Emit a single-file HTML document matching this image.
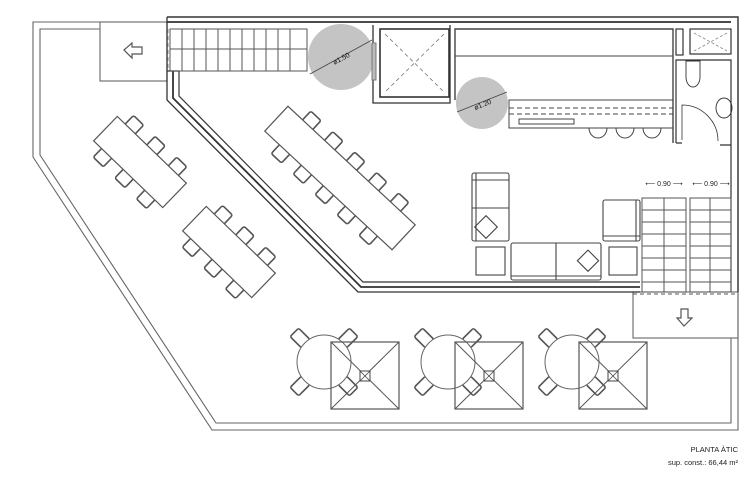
<!DOCTYPE html>
<html><head><meta charset="utf-8"><style>
html,body{margin:0;padding:0;background:#fff;width:753px;height:480px;overflow:hidden}
svg{display:block}
text{font-family:"Liberation Sans",sans-serif}
</style></head><body>
<svg width="753" height="480" viewBox="0 0 753 480" xmlns="http://www.w3.org/2000/svg">
<defs>
<g id="chair"><rect x="-7" y="-7" width="14" height="14" rx="2" fill="#fff" stroke="#555" stroke-width="1.6"/></g>
<g id="rt">
 <g transform="translate(-24,-24) rotate(45)"><rect x="-8" y="-6" width="16" height="12" rx="2" fill="#fff" stroke="#555" stroke-width="1.6"/></g>
 <g transform="translate(24,-24) rotate(-45)"><rect x="-8" y="-6" width="16" height="12" rx="2" fill="#fff" stroke="#555" stroke-width="1.6"/></g>
 <g transform="translate(-24,24) rotate(-45)"><rect x="-8" y="-6" width="16" height="12" rx="2" fill="#fff" stroke="#555" stroke-width="1.6"/></g>
 <g transform="translate(24,24) rotate(45)"><rect x="-8" y="-6" width="16" height="12" rx="2" fill="#fff" stroke="#555" stroke-width="1.6"/></g>
 <circle cx="0" cy="0" r="27" fill="#fff" stroke="#666" stroke-width="1"/>
 <rect x="7" y="-20" width="68" height="67" fill="none" stroke="#555" stroke-width="1.2"/>
 <path d="M7,-20 L75,47 M75,-20 L7,47" stroke="#555" stroke-width="1"/>
 <rect x="36" y="9" width="10" height="10" fill="#fff" stroke="#444" stroke-width="1"/>
 <path d="M36,9 L46,19 M46,9 L36,19" stroke="#444" stroke-width=".8"/>
</g>
</defs>
<g fill="none" stroke="#666" stroke-width="1.1">
 <!-- terrace outer -->
 <path d="M167,22 L33,22 L33,157 L212,430 L738,430 L738,20"/>
 <path d="M100,29 L40,29 L40,155 L216,423 L731,423 L731,338"/>
 <rect x="100" y="22" width="67" height="59"/>
 <rect x="633" y="292" width="105" height="46"/>
</g>
<!-- arrows -->
<path d="M124,50 L132,43 L132,47 L142,47 L142,54 L132,54 L132,58 Z" fill="none" stroke="#555" stroke-width="1.2"/>
<path d="M684,326 L677,318 L681,318 L681,309 L688,309 L688,318 L692,318 Z" fill="none" stroke="#555" stroke-width="1.2"/>
<!-- building walls -->
<g fill="none" stroke="#333">
 <path d="M167,17 L738,17 L738,292" stroke-width="1.4"/>
 <path d="M167,22 L731,22" stroke-width="1.8"/>
 <path d="M167,17 L167,100 L358,292 L640,292" stroke-width="1.3"/>
 <path d="M173,71 L173,98 L361,287 L640,287" stroke-width="1.8"/>
 <path d="M179,71 L179,96 L363,282 L640,282" stroke-width="1.2"/>
 <path d="M167,71 L179,71" stroke-width="1.3"/>
 <path d="M731,145 L731,292" stroke-width="1.2"/>
</g>
<!-- top stair -->
<g fill="none" stroke="#555" stroke-width="1">
 <rect x="170" y="29" width="137" height="42"/>
 <line x1="170" y1="49" x2="307" y2="49"/>
 <path d="M182,29V71M194,29V71M206,29V71M218,29V71M230,29V71M242,29V71M254,29V71M266,29V71M278,29V71M290,29V71"/>
</g>
<path d="M168,29 V71" stroke="#888" stroke-dasharray="4,3" fill="none"/>
<!-- circles -->
<circle cx="341" cy="57" r="33" fill="#c4c4c4"/>
<line x1="310" y1="74" x2="372" y2="40" stroke="#444" stroke-width=".8"/>
<text x="341" y="61" font-size="7" text-anchor="middle" transform="rotate(-28 341 58)" fill="#111">ø1.50</text>
<circle cx="482" cy="103" r="26" fill="#c4c4c4"/>
<line x1="457" y1="112" x2="507" y2="92" stroke="#444" stroke-width=".8"/>
<text x="482" y="107" font-size="7" text-anchor="middle" transform="rotate(-22 482 103)" fill="#111">ø1.20</text>
<!-- elevator -->
<g fill="none" stroke="#333">
 <path d="M373,43 V25 M373,80 V103 H450 V25" stroke-width="1.3"/>
 <rect x="380" y="29" width="69" height="68" stroke-width="1.6"/>
 <path d="M385,34 L444,92 M444,34 L385,92" stroke="#777" stroke-dasharray="4,3" stroke-width=".8"/>
 <rect x="372" y="43" width="4" height="37" fill="#bbb" stroke="#777"/>
</g>
<!-- kitchen -->
<g fill="none" stroke="#444" stroke-width="1">
 <path d="M455,100 V29 H673 V143" stroke-width="1.4"/>
 <line x1="455" y1="56" x2="673" y2="56"/>
 <rect x="509" y="100" width="164" height="28"/>
 <path d="M509,108 H673 M509,114 H673" stroke-dasharray="5,3"/>
 <rect x="519" y="119" width="55" height="5"/>
 <path d="M589,128 a9,10 0 0 0 18,0 M616,128 a9,10 0 0 0 18,0 M643,128 a9,10 0 0 0 18,0"/>
</g>
<!-- bath -->
<g fill="none" stroke="#333" stroke-width="1.2">
 <rect x="676" y="29" width="7" height="26"/>
 <rect x="690" y="29" width="41" height="25"/>
 <path d="M694,33 L727,51 M727,33 L694,51" stroke="#888" stroke-dasharray="3,2" stroke-width=".8"/>
 <path d="M676,143 V60 H731 V145 H720 M676,143 H682"/>
 <path d="M686,61 h14 v16 a7,10 0 0 1 -14,0 Z" stroke-width=".9"/>
 <ellipse cx="724" cy="108" rx="8" ry="10" stroke-width=".9"/>
 <path d="M682,140 V105 a36,36 0 0 1 36,36" stroke-width=".8"/>
</g>
<!-- dims -->
<g font-size="7" fill="#222" text-anchor="middle">
 <text x="664" y="186">⟵ 0.90 ⟶</text>
 <text x="711" y="186">⟵ 0.90 ⟶</text>
</g>
<!-- right stairs -->
<g fill="none" stroke="#555" stroke-width="1">
 <rect x="642" y="198" width="44" height="94"/>
 <rect x="690" y="198" width="41" height="94"/>
 <line x1="664" y1="198" x2="664" y2="292"/><line x1="710" y1="198" x2="710" y2="292"/>
 <path d="M642,210H686M642,222H686M642,234H686M642,246H686M642,258H686M642,270H686M642,282H686M690,210H731M690,222H731M690,234H731M690,246H731M690,258H731M690,270H731M690,282H731"/>
 <path d="M633,294 H738" stroke-dasharray="4,3"/>
</g>
<!-- living -->
<g fill="none" stroke="#444" stroke-width="1.1">
 <rect x="472" y="173" width="37" height="68" rx="2"/>
 <path d="M476,173 V241 M472,180 H509 M472,208 H509"/>
 <rect x="478" y="219" width="16" height="16" transform="rotate(45 486 227)"/>
 <rect x="476" y="247" width="29" height="28"/>
 <rect x="511" y="243" width="90" height="37" rx="2"/>
 <path d="M511,276 H601 M556,243 V280"/>
 <rect x="581" y="253" width="15" height="15" transform="rotate(45 588 260)"/>
 <rect x="609" y="247" width="28" height="28"/>
 <rect x="603" y="200" width="37" height="41" rx="2"/>
 <path d="M636,200 V241 M603,236 H640"/>
</g>
<!-- dining tables -->
<g transform="translate(140,162) rotate(44)">
 <use href="#chair" x="-30" y="-22"/><use href="#chair" x="0" y="-22"/><use href="#chair" x="30" y="-22"/>
 <use href="#chair" x="-30" y="22"/><use href="#chair" x="0" y="22"/><use href="#chair" x="30" y="22"/>
 <rect x="-48" y="-17" width="96" height="34" fill="#fff" stroke="#555" stroke-width="1.2"/>
</g>
<g transform="translate(229,252) rotate(44)">
 <use href="#chair" x="-30" y="-22"/><use href="#chair" x="0" y="-22"/><use href="#chair" x="30" y="-22"/>
 <use href="#chair" x="-30" y="22"/><use href="#chair" x="0" y="22"/><use href="#chair" x="30" y="22"/>
 <rect x="-48" y="-17" width="96" height="34" fill="#fff" stroke="#555" stroke-width="1.2"/>
</g>
<g transform="translate(340,178) rotate(43)">
 <use href="#chair" x="-60" y="-22"/><use href="#chair" x="-30" y="-22"/><use href="#chair" x="0" y="-22"/><use href="#chair" x="30" y="-22"/><use href="#chair" x="60" y="-22"/>
 <use href="#chair" x="-60" y="22"/><use href="#chair" x="-30" y="22"/><use href="#chair" x="0" y="22"/><use href="#chair" x="30" y="22"/><use href="#chair" x="60" y="22"/>
 <rect x="-87" y="-17" width="174" height="34" fill="#fff" stroke="#555" stroke-width="1.2"/>
</g>
<!-- terrace round tables -->
<use href="#rt" x="324" y="362"/>
<use href="#rt" x="448" y="362"/>
<use href="#rt" x="572" y="362"/>
<text x="738" y="452" font-size="7.5" text-anchor="end" fill="#222">PLANTA ÀTIC</text>
<text x="738" y="465" font-size="7.5" text-anchor="end" fill="#222">sup. const.: 66,44 m²</text>
</svg>
</body></html>
